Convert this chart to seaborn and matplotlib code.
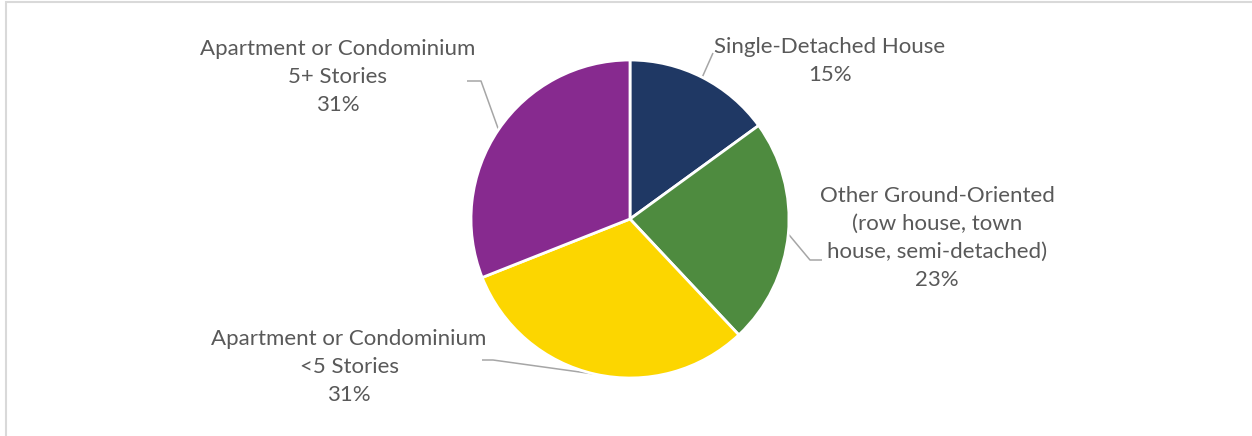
import numpy as np
import matplotlib
matplotlib.use("Agg")
import matplotlib.pyplot as plt
from matplotlib.patches import Rectangle
import seaborn as sns

# Dwelling type shares (%)
categories = [
    "Single-Detached House",
    "Other Ground-Oriented\n(row house, town\nhouse, semi-detached)",
    "Apartment or Condominium\n<5 Stories",
    "Apartment or Condominium\n5+ Stories",
]
shares = [15, 23, 31, 31]
colors = ["#1F3864", "#4E8B3F", "#FCD600", "#872A8F"]

sns.set_theme(style="white")
plt.rcParams["font.family"] = ["Lato", "DejaVu Sans"]

W, H = 1252, 436
fig = plt.figure(figsize=(W / 100, H / 100), dpi=100)
ax = fig.add_axes([0, 0, 1, 1])

cx, cy, r = 630, H - 219, 159
wedges, _ = ax.pie(
    shares, colors=colors, startangle=90, counterclock=False,
    center=(cx, cy), radius=r, frame=True,
    wedgeprops=dict(edgecolor="white", linewidth=2),
)
ax.set_xlim(0, W)
ax.set_ylim(0, H)
ax.set_aspect("equal")
ax.axis("off")

# label text centres and leader-line elbows (pixel coords, y from top)
label_pos = [(830, 61), (937, 238), (349, 367), (338, 77)]
elbows = [
    [(713, 53)],
    [(810, 260), (822, 260)],
    [(493, 360), (482, 360)],
    [(481, 81), (467, 81)],
]
text_color = "#595959"
for w, name, val, (tx, ty), elb in zip(wedges, categories, shares, label_pos, elbows):
    ax.text(tx, H - ty, f"{name}\n{val}%", ha="center", va="center",
            fontsize=16, color=text_color, linespacing=1.5)
    mid = np.deg2rad((w.theta1 + w.theta2) / 2)
    ex, ey = cx + r * np.cos(mid), cy + r * np.sin(mid)
    xs = [ex] + [p[0] for p in elb]
    ys = [ey] + [H - p[1] for p in elb]
    ax.plot(xs, ys, color="#A6A6A6", lw=1.1, solid_capstyle="butt", zorder=0.5)

# chart-area frame
fig.patches.append(Rectangle((5.5 / W, -0.1), 2, (H - 1.5) / H + 0.1,
                             transform=fig.transFigure, fill=False,
                             edgecolor="#D9D9D9", lw=1.5))

fig.savefig("out.png", dpi=100, facecolor="white")
